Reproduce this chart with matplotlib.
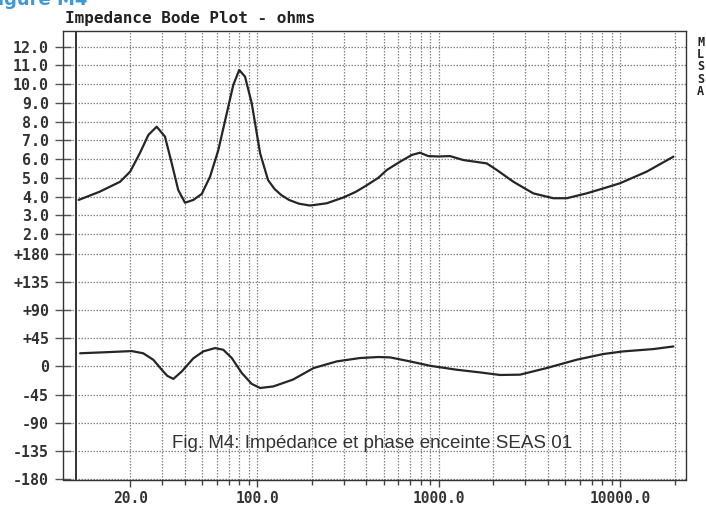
import matplotlib
matplotlib.use("Agg")
import matplotlib.pyplot as plt
import matplotlib.ticker as mticker

# ---------------- data ----------------
imp_freq = [10.4, 13.6, 17.6, 20.0, 22.6, 25.2, 28.0, 31.1, 33.9, 36.8, 40.1, 44.6,
            49.6, 55.1, 61.2, 68.1, 74.0, 79.8, 85.9, 93.5, 104, 115, 125, 136,
            150, 170, 196, 242, 299, 350, 402, 466, 519, 614, 712, 790, 879, 1000,
            1157, 1370, 1844, 2094, 2585, 3328, 4292, 5086, 6548, 8000, 10000,
            14030, 19680]
imp_ohms = [3.82, 4.26, 4.79, 5.33, 6.31, 7.29, 7.73, 7.20, 5.77, 4.35, 3.67, 3.82,
            4.14, 5.06, 6.48, 8.44, 9.96, 10.76, 10.40, 8.98, 6.31, 4.88, 4.40, 4.08,
            3.82, 3.62, 3.52, 3.64, 3.95, 4.25, 4.60, 5.00, 5.42, 5.86, 6.22, 6.34, 6.16,
            6.14, 6.16, 5.95, 5.77, 5.42, 4.79, 4.17, 3.91, 3.91, 4.17, 4.42, 4.71,
            5.33, 6.13]

ph_freq = [10.6, 14.2, 20.4, 23.6, 26.8, 29.8, 32.0, 34.6, 38.5, 44.6, 50.6, 58.7,
           65.2, 72.6, 82.4, 93.5, 104, 123, 158, 205, 275, 369, 466, 541, 697,
           899, 1259, 1693, 2183, 2812, 3946, 5770, 8090, 10420, 15240, 19680]
ph_deg = [21, 22.5, 24.5, 21, 10.7, -5, -15, -20, -8, 13, 24, 29.3,
          26.6, 13.4, -10.5, -28, -34.5, -32, -21, -2.6, 8, 13.4, 15, 14.4, 8,
          1, -5.3, -9.6, -13.7, -13.2, -2.6, 10.7, 19.8, 24, 27.7, 31.9]

imp_ticks = [12, 11, 10, 9, 8, 7, 6, 5, 4, 3, 2]
imp_labels = ["12.0", "11.0", "10.0", "9.0", "8.0", "7.0", "6.0", "5.0", "4.0", "3.0", "2.0"]
ph_ticks = [180, 135, 90, 45, 0, -45, -90, -135, -180]
ph_labels = ["+180", "+135", "+90", "+45", "0", "-45", "-90", "-135", "-180"]
x_ticks = [20, 100, 1000, 10000]
x_labels = ["20.0", "100.0", "1000.0", "10000.0"]

title = "Impedance Bode Plot - ohms"
caption = "Fig. M4: Impédance et phase enceinte SEAS 01"
side_letters = ["M", "L", "S", "S", "A"]

# ---------------- layout ----------------
W, H = 706, 505
fig = plt.figure(figsize=(W / 100, H / 100), dpi=100)
fig.patch.set_facecolor("white")


def fx(px):
    return px / W


def fy(py):
    return 1 - py / H


L, R = 63, 686
T, MID, B = 31, 244, 479.5
ax1 = fig.add_axes([fx(L), fy(MID), (R - L) / W, (MID - T) / H])
ax2 = fig.add_axes([fx(L), fy(B), (R - L) / W, (B - MID) / H])

grid_freqs = [f * m for m in (10, 100, 1000) for f in range(1, 10)] + [10000, 20000]
grid_freqs = [g for g in grid_freqs if g != 10]

mono = "DejaVu Sans Mono"
ink = "#262626"
gridc = "#858585"
for ax in (ax1, ax2):
    ax.set_xscale("log")
    ax.set_xlim(8.53, 23100)
    for g in grid_freqs:
        ax.axvline(g, color=gridc, lw=0.9, ls=(0, (1.2, 1.2)), zorder=1)
    ax.axvline(10, color="#333333", lw=1.4, zorder=2)
    ax.yaxis.grid(True, color=gridc, lw=0.9, ls=(0, (1.2, 1.2)))
    ax.set_axisbelow(True)
    for s in ax.spines.values():
        s.set_color("#333333")
        s.set_linewidth(1.0)
    ax.tick_params(axis="y", direction="inout", length=12, width=1.0, color="#555555",
                   pad=4, labelsize=10.8, labelcolor="#333333")

ax1.spines["bottom"].set_visible(False)
ax2.spines["top"].set_visible(False)

ax1.set_ylim(1.466, 12.84)
ax1.set_yticks(imp_ticks)
ax1.set_yticklabels(imp_labels, family=mono, weight="bold")
ax1.tick_params(axis="x", which="both", bottom=False, labelbottom=False)
ax1.plot(imp_freq, imp_ohms, color=ink, lw=1.6, zorder=3,
         solid_joinstyle="round", solid_capstyle="round")

ax2.set_ylim(-180.8, 195.7)
ax2.set_yticks(ph_ticks)
ax2.set_yticklabels(ph_labels, family=mono, weight="bold")
ax2.set_xticks(x_ticks)
ax2.set_xticklabels(x_labels, family=mono, weight="bold", fontsize=10.5, color="#333333")
ax2.set_xticks([g for g in grid_freqs if g not in x_ticks], minor=True)
ax2.xaxis.set_minor_formatter(mticker.NullFormatter())
ax2.tick_params(axis="x", which="major", direction="out", length=5, width=1.0,
                color="#444444", pad=3)
ax2.tick_params(axis="x", which="minor", direction="out", length=3.5, width=1.0,
                color="#444444")
ax2.plot(ph_freq, ph_deg, color=ink, lw=1.6, zorder=3,
         solid_joinstyle="round", solid_capstyle="round")

# ---------------- texts ----------------
fig.text(fx(65), fy(19), title, family=mono, weight="bold", fontsize=11.5,
         color="#222222", va="center", ha="left")
fig.text(fx(-2), fy(5), "igure M4", family="DejaVu Sans", weight="bold",
         fontsize=13, color="#3d9ad6", va="baseline", ha="left")
for i, ch in enumerate(side_letters):
    fig.text(fx(697), fy(42 + 12.4 * i), ch, family=mono, weight="bold",
             fontsize=8.5, color="#222222", va="center", ha="left")
fig.text(fx(172), fy(448), caption, family="Liberation Sans", fontsize=13.5,
         color="#333333", va="baseline", ha="left")

fig.savefig("out.png", dpi=100)
